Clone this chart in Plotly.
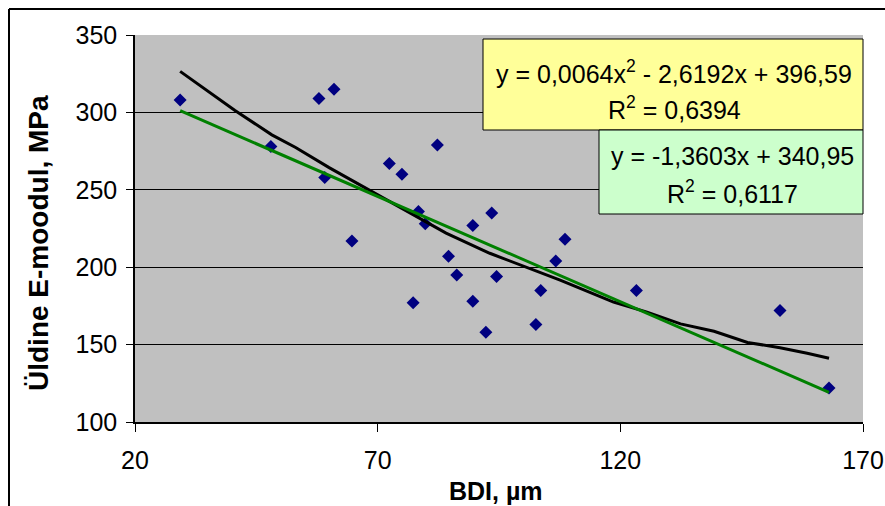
import plotly.graph_objects as go

# measured points: BDI (um) vs overall E-modulus (MPa)
bdi = [29.3, 48.0, 57.9, 61.0, 59.1, 64.7, 72.4, 75.0, 82.3, 78.4, 79.8, 77.3, 84.6,
       86.3, 89.6, 89.6, 92.3, 93.5, 94.5, 102.6, 103.6, 106.7, 108.6, 123.3, 152.9, 163.0]
e_mod = [308, 278, 309, 315, 258, 217, 267, 260, 279, 236, 228, 177, 207,
         195, 227, 178, 158, 235, 194, 163, 185, 204, 218, 185, 172, 122]

# polynomial trendline
poly_x = [29.3, 36.5, 40.6, 48.2, 53.1, 60.0, 68.2, 73.7, 84.1, 93.1, 107.6,
          118.6, 125.5, 132.4, 139.3, 146.2, 152.9, 158.5, 163.0]
poly_y = [326.5, 310.0, 301.2, 285.5, 277.3, 264.3, 250.0, 240.4, 222.0, 209.0, 191.6,
          177.5, 171.0, 163.4, 158.6, 151.4, 148.0, 144.4, 141.2]

# linear trendline end points
lin_x = [29.3, 163.0]
lin_y = [301.1, 119.2]

poly_text = ["y = 0,0064x<sup>2</sup> - 2,6192x + 396,59", "R<sup>2</sup> = 0,6394"]
lin_text = ["y = -1,3603x + 340,95", "R<sup>2</sup> = 0,6117"]

font = "Liberation Sans, Arial, sans-serif"

fig = go.Figure()
fig.add_trace(go.Scatter(x=bdi, y=e_mod, mode="markers",
                         marker=dict(symbol="diamond", size=10, color="#000080"),
                         showlegend=False))
fig.add_trace(go.Scatter(x=poly_x, y=poly_y, mode="lines",
                         line=dict(color="black", width=3), showlegend=False))
fig.add_trace(go.Scatter(x=lin_x, y=lin_y, mode="lines",
                         line=dict(color="#008000", width=3), showlegend=False))

W, H = 885, 506
L, R, T, B = 135, 22, 35, 84
pw, ph = W - L - R, H - T - B


def px(x):
    return (x - L) / pw


def py(y):
    return (H - B - y) / ph


# outer chart border (only left and top edges fall inside the picture)
fig.add_shape(type="line", xref="paper", yref="paper",
              x0=px(9), x1=px(W), y0=py(9), y1=py(9),
              line=dict(color="black", width=2))
fig.add_shape(type="line", xref="paper", yref="paper",
              x0=px(9), x1=px(9), y0=py(9), y1=py(H),
              line=dict(color="black", width=2))

# equation boxes
fig.add_shape(type="rect", xref="paper", yref="paper",
              x0=px(483), x1=px(863), y0=py(39), y1=py(130),
              line=dict(color="black", width=1), fillcolor="#FFFF99")
fig.add_shape(type="rect", xref="paper", yref="paper",
              x0=px(599), x1=px(863), y0=py(130), y1=py(214),
              line=dict(color="black", width=1), fillcolor="#CCFFCC")

for txt, xc, yc in [(poly_text[0], 674, 72), (poly_text[1], 674, 108),
                    (lin_text[0], 732, 156), (lin_text[1], 732, 192)]:
    fig.add_annotation(text=txt, xref="paper", yref="paper", x=px(xc), y=py(yc),
                       showarrow=False, xanchor="center", yanchor="middle",
                       font=dict(family=font, size=25, color="black"))

# axis titles
fig.add_annotation(text="<b>BDI, µm</b>", xref="paper", yref="paper",
                   x=px(496), y=py(491), showarrow=False,
                   xanchor="center", yanchor="middle",
                   font=dict(family=font, size=25, color="black"))
fig.add_annotation(text="<b>Üldine E-moodul, MPa</b>", xref="paper", yref="paper",
                   x=px(39), y=py(243), showarrow=False, textangle=-90,
                   xanchor="center", yanchor="middle",
                   font=dict(family=font, size=28, color="black"))

fig.update_xaxes(range=[20, 170], tickvals=[20, 70, 120, 170], showgrid=False,
                 showline=True, linecolor="black", linewidth=1.5,
                 ticks="outside", ticklen=8, tickcolor="black",
                 ticklabelstandoff=7, zeroline=False, automargin=False,
                 tickfont=dict(family=font, size=25, color="black"))
fig.update_yaxes(range=[100, 350], tickvals=[100, 150, 200, 250, 300, 350],
                 showgrid=True, gridcolor="black", gridwidth=1,
                 showline=True, linecolor="black", linewidth=1.5,
                 ticks="outside", ticklen=7, tickcolor="black",
                 ticklabelstandoff=4, zeroline=False, automargin=False,
                 tickfont=dict(family=font, size=25, color="black"))

fig.update_layout(width=W, height=H, margin=dict(l=L, r=R, t=T, b=B),
                  paper_bgcolor="white", plot_bgcolor="#C0C0C0",
                  font=dict(family=font))

# drop the default page margin so the figure sits at the window's corner
fig.write_html("out.html", config={"displayModeBar": False},
               post_script="document.body.style.margin='0';")
